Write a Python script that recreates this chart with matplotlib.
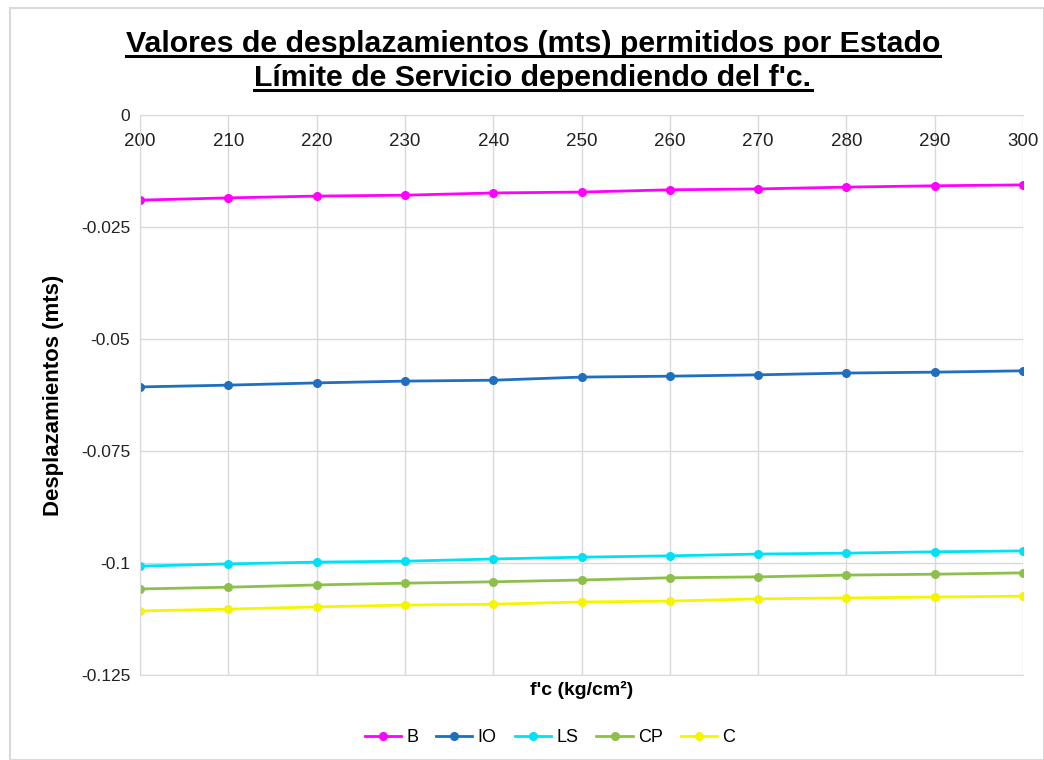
import matplotlib.pyplot as plt
from matplotlib.patches import Rectangle

plt.rcParams['font.family'] = ['Liberation Sans', 'DejaVu Sans']

# f'c values (kg/cm2) and allowed displacements (m) per limit state
fc = [200, 210, 220, 230, 240, 250, 260, 270, 280, 290, 300]
disp_B = [-0.0190, -0.0185, -0.0181, -0.0179, -0.0174, -0.0172, -0.0167, -0.0165, -0.0161, -0.0158, -0.0156]
disp_IO = [-0.0607, -0.0603, -0.0598, -0.0594, -0.0592, -0.0585, -0.0583, -0.0580, -0.0576, -0.0574, -0.0571]
disp_LS = [-0.1007, -0.1002, -0.0998, -0.0996, -0.0991, -0.0987, -0.0984, -0.0980, -0.0978, -0.0975, -0.0973]
disp_CP = [-0.1058, -0.1054, -0.1049, -0.1045, -0.1042, -0.1038, -0.1033, -0.1031, -0.1027, -0.1025, -0.1022]
disp_C = [-0.1107, -0.1103, -0.1098, -0.1094, -0.1092, -0.1087, -0.1085, -0.1080, -0.1078, -0.1076, -0.1074]
y_ticks = [0, -0.025, -0.05, -0.075, -0.1, -0.125]
y_tick_labels = ['0', '-0.025', '-0.05', '-0.075', '-0.1', '-0.125']

series = [
    ('B', disp_B, '#FF00FF'),
    ('IO', disp_IO, '#1F6FC0'),
    ('LS', disp_LS, '#00E1F5'),
    ('CP', disp_CP, '#8DC04A'),
    ('C', disp_C, '#F5F500'),
]

fig = plt.figure(figsize=(10.44, 7.6), dpi=100)
fig.patches.append(Rectangle((10 / 1044, 0), 1 - 10 / 1044, 1 - 8 / 760,
                             transform=fig.transFigure, fill=False,
                             edgecolor='#d9d9d9', linewidth=1.5))
ax = fig.add_axes([140 / 1044, 1 - 675 / 760, 883 / 1044, 560 / 760])

for name, vals, color in series:
    ax.plot(fc, vals, color=color, linewidth=2, marker='o', markersize=5.5, label=name)

ax.set_xlim(200, 300)
ax.set_ylim(-0.125, 0)
ax.set_xticks(fc)
ax.set_yticks(y_ticks)
ax.set_yticklabels(y_tick_labels)

# category labels sit just below the zero line at the top
ax.xaxis.tick_top()
ax.tick_params(axis='x', length=0, pad=-25, labelsize=13.5, colors='#222222')
ax.tick_params(axis='y', length=0, pad=7, labelsize=12.5, colors='#222222')

ax.grid(True, color='#d9d9d9', linewidth=1)
ax.set_axisbelow(True)
ax.spines['right'].set_visible(False)
for side in ['top', 'bottom', 'left']:
    ax.spines[side].set_color('#d9d9d9')

ax.set_ylabel('Desplazamientos (mts)', fontsize=16, fontweight='bold', labelpad=12)
fig.text(582 / 1044, 1 - 690 / 760, "f'c (kg/cm²)", fontsize=14,
         fontweight='bold', ha='center', va='center')

# underlined two-line title
title_lines = ['Valores de desplazamientos (mts) permitidos por Estado',
               'Límite de Servicio dependiendo del f\'c.']
title_y = [44, 78]
texts = []
for line, yy in zip(title_lines, title_y):
    texts.append(fig.text(533 / 1044, 1 - yy / 760, line, fontsize=21.8,
                          fontweight='bold', ha='center', va='center'))
fig.canvas.draw()
renderer = fig.canvas.get_renderer()
inv = fig.transFigure.inverted()
for t in texts:
    bb = t.get_window_extent(renderer)
    (x0, y0), (x1, _) = inv.transform([[bb.x0, bb.y0], [bb.x1, bb.y1]])
    fig.add_artist(plt.Line2D([x0, x1], [y0 + 0.002, y0 + 0.002],
                              transform=fig.transFigure, color='black', linewidth=2.2))

ax.legend(loc='center', bbox_to_anchor=(550 / 1044, 1 - 738 / 760),
          bbox_transform=fig.transFigure, ncol=5, frameon=False,
          fontsize=13, handlelength=2.0, handletextpad=0.3, columnspacing=1.0)

fig.savefig('out.png', dpi=100, facecolor='white')
